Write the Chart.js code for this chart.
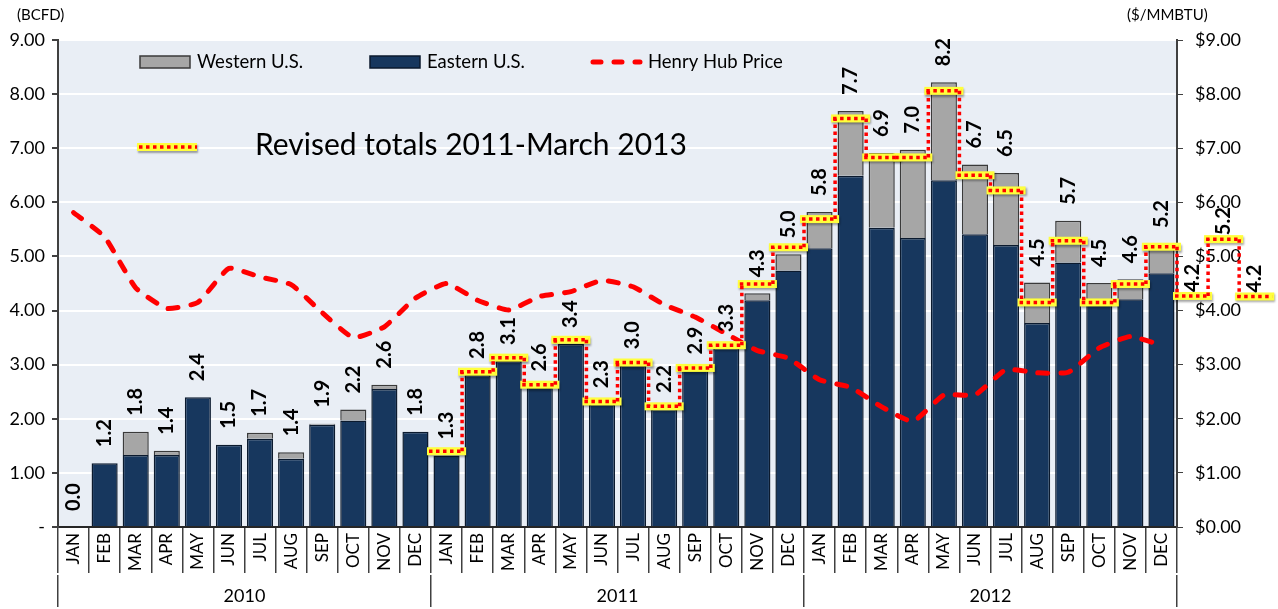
<!DOCTYPE html>
<html>
<head>
<meta charset="utf-8">
<script src="https://cdn.jsdelivr.net/npm/chart.js@4.4.1/dist/chart.umd.min.js"></script>
<style>
  html, body { margin: 0; padding: 0; background: #fff; }
  #wrap { position: relative; width: 1278px; height: 609px; }
</style>
</head>
<body>
<div id="wrap"><canvas id="gas-chart"></canvas></div>
<script>
const months = ['JAN', 'FEB', 'MAR', 'APR', 'MAY', 'JUN', 'JUL', 'AUG', 'SEP', 'OCT', 'NOV', 'DEC'];
const monthLabels = [...months, ...months, ...months];
const years = ['2010', '2011', '2012'];

// BCFD, Jan 2010 - Dec 2012
const eastern = [
  0, 1.18, 1.33, 1.33, 2.40, 1.52, 1.63, 1.26, 1.89, 1.97, 2.55, 1.76,
  1.32, 2.81, 3.07, 2.58, 3.38, 2.27, 2.99, 2.18, 2.89, 3.31, 4.19, 4.74,
  5.15, 6.49, 5.53, 5.34, 6.41, 5.41, 5.21, 3.77, 4.89, 4.12, 4.21, 4.69,
];
const western = [
  0, 0, 0.43, 0.08, 0, 0, 0.11, 0.12, 0.02, 0.20, 0.08, 0,
  0, 0, 0, 0, 0, 0, 0, 0, 0, 0, 0.13, 0.30,
  0.67, 1.20, 1.38, 1.63, 1.81, 1.29, 1.33, 0.75, 0.77, 0.39, 0.37, 0.54,
];
// $/MMBTU
const henryHub = [
  5.81, 5.36, 4.42, 4.04, 4.15, 4.78, 4.62, 4.48, 3.96, 3.50, 3.70, 4.23,
  4.50, 4.19, 4.01, 4.26, 4.35, 4.56, 4.44, 4.11, 3.88, 3.57, 3.26, 3.12,
  2.72, 2.58, 2.22, 1.95, 2.44, 2.44, 2.91, 2.85, 2.86, 3.31, 3.52, 3.36,
];
// revised totals, Jan 2011 - Mar 2013
const revisedStart = 12;
const revisedTotals = [
  1.40, 2.87, 3.13, 2.63, 3.46, 2.32, 3.04, 2.23, 2.94, 3.36, 4.49, 5.17,
  5.69, 7.55, 6.83, 6.83, 8.06, 6.50, 6.22, 4.15, 5.29, 4.15, 4.49, 5.18,
  4.27, 5.32, 4.26,
];
const forecastLabels = ['4.2', '5.2', '4.2'];

const FONT = 'Lato';
const YELLOW = '#FFFF3C';
const RED = '#FF0000';

const yellowSeg = (ctx, x0, x1, y) => {
  ctx.save();
  ctx.shadowColor = 'rgba(0,0,0,0.35)';
  ctx.shadowOffsetX = 1;
  ctx.shadowOffsetY = 2;
  ctx.shadowBlur = 2;
  ctx.fillStyle = YELLOW;
  ctx.fillRect(x0, y - 4, x1 - x0, 8);
  ctx.restore();
};

const redDots = (ctx, x0, y0, x1, y1) => {
  ctx.save();
  ctx.strokeStyle = RED;
  ctx.lineWidth = 3.5;
  ctx.setLineDash([3.5, 3.5]);
  ctx.beginPath();
  ctx.moveTo(x0, y0);
  ctx.lineTo(x1, y1);
  ctx.stroke();
  ctx.restore();
};

const background = {
  id: 'background',
  beforeDraw(chart) {
    const { ctx, chartArea: { left, top, width, height } } = chart;
    ctx.save();
    ctx.fillStyle = '#E9EEF5';
    ctx.fillRect(left, top, width, height);
    ctx.restore();
  },
};

const overlays = {
  id: 'overlays',
  afterDatasetsDraw(chart) {
    const { ctx } = chart;
    const xs = chart.scales.x;
    const ys = chart.scales.y;
    const half = (xs.getPixelForValue(1) - xs.getPixelForValue(0)) / 2;

    // revised totals step line
    const pts = revisedTotals.map((v, k) => ({
      x: xs.getPixelForValue(revisedStart + k),
      y: ys.getPixelForValue(v),
    }));
    pts.forEach((p) => yellowSeg(ctx, p.x - half - 4, p.x + half + 4, p.y));
    pts.forEach((p, k) => {
      redDots(ctx, p.x - half - 2, p.y, p.x + half + 2, p.y);
      if (k < pts.length - 1) {
        redDots(ctx, p.x + half, p.y, p.x + half, pts[k + 1].y);
      }
    });

    // value labels
    ctx.save();
    ctx.font = `bold 20px ${FONT}`;
    ctx.fillStyle = '#000';
    ctx.textAlign = 'left';
    ctx.textBaseline = 'middle';
    eastern.forEach((e, i) => {
      const total = Math.round((e + western[i]) * 10) / 10;
      const x = xs.getPixelForValue(i);
      const y = ys.getPixelForValue(e + western[i]) - 16;
      ctx.save();
      ctx.translate(x, y);
      ctx.rotate(-Math.PI / 2);
      ctx.fillText(total.toFixed(1), 0, 0);
      ctx.restore();
    });
    forecastLabels.forEach((t, k) => {
      const idx = eastern.length + k;
      const x = xs.getPixelForValue(idx);
      const y = ys.getPixelForValue(revisedTotals[idx - revisedStart]) - 4;
      ctx.save();
      ctx.translate(x, y);
      ctx.rotate(-Math.PI / 2);
      ctx.fillText(t, 0, 0);
      ctx.restore();
    });
    ctx.restore();
  },
  afterDraw(chart) {
    const { ctx } = chart;
    const [hub, east, west] = chart.data.datasets;
    ctx.save();
    ctx.textBaseline = 'middle';
    ctx.textAlign = 'left';
    ctx.fillStyle = '#000';
    ctx.font = `15px ${FONT}`;
    ctx.fillText('(BCFD)', 17, 15);
    ctx.fillText('($/MMBTU)', 1127, 15);

    // legend
    ctx.font = `18.5px ${FONT}`;
    [[west, 140, 197], [east, 370, 427]].forEach(([ds, bx, tx]) => {
      ctx.fillStyle = ds.backgroundColor;
      ctx.fillRect(bx, 56, 50, 12);
      ctx.strokeStyle = ds.borderColor;
      ctx.lineWidth = 1.5;
      ctx.strokeRect(bx, 56, 50, 12);
      ctx.fillStyle = '#000';
      ctx.fillText(ds.label, tx, 62);
    });
    ctx.save();
    ctx.strokeStyle = hub.borderColor;
    ctx.lineWidth = 5;
    ctx.lineCap = 'round';
    ctx.setLineDash([8, 13]);
    ctx.beginPath();
    ctx.moveTo(593, 62);
    ctx.lineTo(640, 62);
    ctx.stroke();
    ctx.restore();
    ctx.fillText(hub.label, 648, 62);

    yellowSeg(ctx, 137, 197, 147);
    redDots(ctx, 139, 147, 197, 147);
    ctx.font = `30px ${FONT}`;
    ctx.fillStyle = '#000';
    ctx.fillText('Revised totals 2011-March 2013', 255, 145);
    ctx.restore();
  },
};

const tickFont = { family: FONT, size: 18 };

new Chart(document.getElementById('gas-chart'), {
  data: {
    labels: monthLabels,
    datasets: [
      {
        type: 'line',
        label: 'Henry Hub Price',
        data: henryHub,
        yAxisID: 'y2',
        borderColor: RED,
        borderWidth: 5,
        borderDash: [10, 13],
        borderCapStyle: 'round',
        pointRadius: 0,
        tension: 0.15,
        fill: false,
        order: 0,
      },
      {
        type: 'bar',
        label: 'Eastern U.S.',
        data: eastern,
        backgroundColor: '#17375E',
        borderColor: '#0B1A2E',
        borderWidth: (c) => (c.raw > 0 ? 1.5 : 0),
        barPercentage: 0.84,
        categoryPercentage: 1,
        order: 1,
      },
      {
        type: 'bar',
        label: 'Western U.S.',
        data: western,
        backgroundColor: '#A6A6A6',
        borderColor: '#3A3A3A',
        borderWidth: (c) => (c.raw > 0 ? 1.5 : 0),
        barPercentage: 0.84,
        categoryPercentage: 1,
        order: 1,
      },
    ],
  },
  options: {
    responsive: true,
    maintainAspectRatio: false,
    animation: false,
    layout: { padding: { top: 40, left: 0, right: 0, bottom: 0 } },
    plugins: {
      legend: { display: false },
      tooltip: { enabled: false },
    },
    scales: {
      x: {
        type: 'category',
        stacked: true,
        offset: true,
        position: 'bottom',
        grid: {
          drawOnChartArea: false,
          offset: true,
          color: '#404040',
          lineWidth: 1.5,
          tickLength: 46,
        },
        border: { display: true, color: '#262626', width: 2 },
        ticks: {
          autoSkip: false,
          maxRotation: 90,
          minRotation: 90,
          padding: -40,
          color: '#000',
          font: { family: FONT, size: 17 },
        },
        afterFit: (s) => { s.height = 48; },
      },
      xYear: {
        type: 'category',
        labels: years,
        position: 'bottom',
        offset: true,
        grid: {
          drawOnChartArea: false,
          offset: true,
          color: '#404040',
          lineWidth: 1.5,
          tickLength: 32,
        },
        border: { display: false },
        ticks: {
          maxRotation: 0,
          padding: -22,
          color: '#000',
          font: { family: FONT, size: 18 },
        },
        afterFit: (s) => { s.height = 34; },
      },
      y: {
        stacked: true,
        min: 0,
        max: 9,
        position: 'left',
        grid: {
          color: (c) => (c.tick && c.tick.value === 0 ? 'rgba(0,0,0,0)' : '#FFFFFF'),
          lineWidth: 2,
          tickColor: '#404040',
          tickLength: 6,
        },
        border: { color: '#404040', width: 2 },
        ticks: {
          stepSize: 1,
          padding: 7,
          color: '#000',
          font: tickFont,
          callback: (v) => (v === 0 ? '-' : v.toFixed(2)),
        },
        afterFit: (s) => { s.width = 58; },
      },
      y2: {
        min: 0,
        max: 9,
        position: 'right',
        grid: {
          drawOnChartArea: false,
          tickColor: '#404040',
          tickLength: 6,
        },
        border: { color: '#404040', width: 2 },
        ticks: {
          stepSize: 1,
          padding: 12,
          color: '#000',
          font: tickFont,
          callback: (v) => `$${v.toFixed(2)}`,
        },
        afterFit: (s) => { s.width = 101; },
      },
    },
  },
  plugins: [background, overlays],
});
</script>
</body>
</html>
